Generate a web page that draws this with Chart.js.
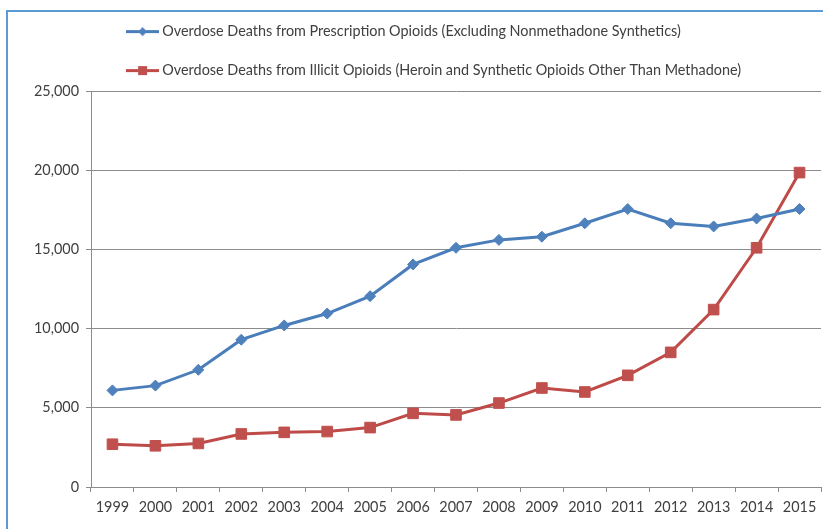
<!DOCTYPE html>
<html>
<head>
<meta charset="utf-8">
<script src="https://cdn.jsdelivr.net/npm/chart.js@4/dist/chart.umd.min.js"></script>
<style>
  html, body { margin: 0; padding: 0; background: #ffffff; overflow: hidden; }
  #wrap { position: relative; width: 823px; height: 529px; overflow: hidden; background: #ffffff; }
  #frameTop { position: absolute; left: 6px; top: 10px; width: 817px; height: 2px; background: #5b9bd5; }
  #frameLeft { position: absolute; left: 6px; top: 10px; width: 2px; height: 519px; background: #5b9bd5; }
  canvas { position: absolute; left: 0; top: 0; }
</style>
</head>
<body>
<div id="wrap">
  <div id="frameTop"></div>
  <div id="frameLeft"></div>
  <canvas id="c" width="823" height="529"></canvas>
</div>
<script>
const years = ['1999','2000','2001','2002','2003','2004','2005','2006','2007','2008','2009','2010','2011','2012','2013','2014','2015'];
const prescriptionDeaths = [6100, 6400, 7400, 9300, 10200, 10950, 12050, 14050, 15100, 15600, 15800, 16650, 17550, 16650, 16450, 16950, 17550];
const illicitDeaths = [2700, 2600, 2750, 3350, 3450, 3500, 3750, 4650, 4550, 5300, 6250, 6000, 7050, 8500, 11200, 15100, 19850];
const seriesLabels = [
  'Overdose Deaths from Prescription Opioids (Excluding Nonmethadone Synthetics)',
  'Overdose Deaths from Illicit Opioids (Heroin and Synthetic Opioids Other Than Methadone)'
];
const yTicks = [0, 5000, 10000, 15000, 20000, 25000];

const BLUE_LINE = '#4a7ebb', BLUE_FILL = '#4f81bd';
const RED_LINE = '#be4b48', RED_FILL = '#c0504d';
const TEXT = '#404040';
const GRID = '#8c8c8c';
const FONT = 'Lato';
const FSIZE = 14.4;

function legendIcon(lineColor, fillColor, shape) {
  const cv = document.createElement('canvas');
  cv.width = 33; cv.height = 13;
  const g = cv.getContext('2d');
  g.strokeStyle = lineColor; g.lineWidth = 3;
  g.beginPath(); g.moveTo(0, 6.5); g.lineTo(33, 6.5); g.stroke();
  g.fillStyle = fillColor;
  g.beginPath();
  if (shape === 'diamond') {
    g.moveTo(16.5, 2); g.lineTo(21, 6.5); g.lineTo(16.5, 11); g.lineTo(12, 6.5);
  } else {
    g.rect(12, 2, 9, 9);
  }
  g.closePath(); g.fill();
  return cv;
}
const icons = [legendIcon(BLUE_LINE, BLUE_FILL, 'diamond'), legendIcon(RED_LINE, RED_FILL, 'square')];

const fixLayout = {
  id: 'fixLayout',
  afterLayout(chart) {
    const lg = chart.legend;
    if (lg) { lg.left = 131.5 - 26; lg.top = 33 - 26 - FSIZE / 2; }
  }
};

new Chart(document.getElementById('c'), {
  type: 'line',
  data: {
    labels: years,
    datasets: [
      {
        label: seriesLabels[0], data: prescriptionDeaths,
        borderColor: BLUE_LINE, backgroundColor: BLUE_FILL, borderWidth: 3,
        pointStyle: 'rectRot', pointRadius: 5.5, pointBackgroundColor: BLUE_FILL,
        pointBorderColor: BLUE_FILL, pointBorderWidth: 1, tension: 0
      },
      {
        label: seriesLabels[1], data: illicitDeaths,
        borderColor: RED_LINE, backgroundColor: RED_FILL, borderWidth: 3,
        pointStyle: 'rect', pointRadius: 7.5, pointBackgroundColor: RED_FILL,
        pointBorderColor: RED_FILL, pointBorderWidth: 1, tension: 0
      }
    ]
  },
  options: {
    responsive: false,
    animation: false,
    devicePixelRatio: 1,
    layout: { autoPadding: false, padding: { top: 3, right: 2, bottom: 0, left: 0 } },
    plugins: {
      tooltip: { enabled: false },
      legend: {
        position: 'top',
        align: 'start',
        labels: {
          usePointStyle: true,
          pointStyleWidth: 25,
          padding: 39 - FSIZE,
          color: TEXT,
          font: { family: FONT, size: FSIZE },
          generateLabels(chart) {
            const items = Chart.defaults.plugins.legend.labels.generateLabels(chart);
            items.forEach((it, i) => { it.pointStyle = icons[i]; });
            return items;
          }
        }
      }
    },
    scales: {
      x: {
        offset: true,
        grid: { offset: true, drawOnChartArea: false, drawTicks: true, tickLength: 5, color: GRID },
        border: { color: GRID, width: 1 },
        ticks: { color: TEXT, font: { family: FONT, size: FSIZE }, padding: 7, maxRotation: 0, autoSkip: false },
        afterFit(scale) { scale.height = 42; scale.paddingLeft = 0; scale.paddingRight = 0; }
      },
      y: {
        min: 0, max: 25000,
        afterBuildTicks(scale) { scale.ticks = yTicks.map(v => ({ value: v })); },
        grid: { color: GRID, tickLength: 5, drawTicks: true },
        border: { color: GRID, width: 1 },
        ticks: {
          color: TEXT, font: { family: FONT, size: FSIZE }, padding: 7,
          callback: v => Number(v).toLocaleString('en-US')
        },
        afterFit(scale) { scale.width = 91; }
      }
    }
  },
  plugins: [fixLayout]
});
</script>
</body>
</html>
